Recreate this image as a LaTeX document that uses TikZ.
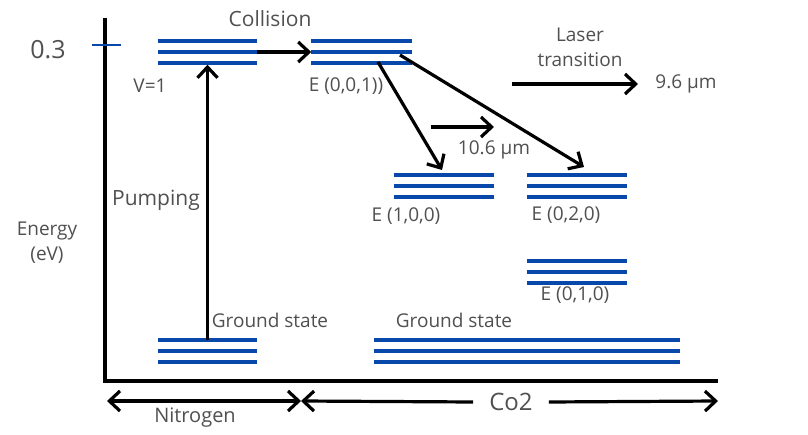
\documentclass[tikz,border=0pt]{standalone}
\usepackage{fontspec}
\setmainfont{Open Sans}
\usetikzlibrary{arrows.meta}
\definecolor{lvblue}{RGB}{8,72,170}
\definecolor{txtgray}{RGB}{80,80,80}
\newcommand\lvlines[1]{\draw[lvline] (#1.north west) -- (#1.north east) (#1.west) -- (#1.east) (#1.south west) -- (#1.south east);}
\tikzset{
  px/.style={x=0.75pt,y=-0.75pt},
  lvl/.style={inner sep=0pt, minimum height=15.75pt, minimum width=#1*0.75pt},
  lvline/.style={draw=lvblue, line width=3pt},
  lbl/.style={text=txtgray, inner sep=0pt, font=\fontsize{14.25}{17}\selectfont},
  tipx/.tip={Straight Barb[length=8pt,width=15pt,line width=2.4pt]},
  conn/.style={draw=black, line width=2.4pt, -tipx},
  axisline/.style={draw=black, line width=3.4pt}
}
\begin{document}
\begin{tikzpicture}[px]
\useasboundingbox[fill=white] (0,0) rectangle (808,435);
% axes
\draw[axisline] (105,18) -- (105,381) -- (718,381);
\draw[draw=lvblue, line width=1.6pt] (92,45) -- (121,45);
\node[lbl, font=\fontsize{18.75}{22}\selectfont] (val) at (48,50) {0.3};
\node[lbl, align=center] (energy) at (47,243) {Energy\\[2pt](eV)};
% levels
\node[lvl=99] (v1) at (207.5,52) {};
\node[lvl=100] (e001) at (361.5,52) {};
\node[lvl=100] (e100) at (444,186) {};
\node[lvl=100] (e020) at (577,186) {};
\node[lvl=100] (e010) at (577,272) {};
\node[lvl=99] (n2g) at (207.5,351) {};
\node[lvl=306] (co2g) at (527,351) {};
\lvlines{v1}\lvlines{e001}\lvlines{e100}\lvlines{e020}\lvlines{e010}\lvlines{n2g}\lvlines{co2g}
% labels
\node[lbl, font=\fontsize{15.75}{19}\selectfont] (coll) at (270,19) {Collision};
\node[lbl] (v1l) at (150,86) {V=1};
\node[lbl] (e001l) at (346,86) {E (0,0,1))};
\node[lbl] (e100l) at (406,216) {E (1,0,0)};
\node[lbl] (e020l) at (566,215) {E (0,2,0)};
\node[lbl] (e010l) at (575,295) {E (0,1,0)};
\node[lbl, font=\fontsize{15.75}{19}\selectfont] (pump) at (156,200) {Pumping};
\node[lbl] (gs1) at (270,320) {Ground state};
\node[lbl] (gs2) at (454,320) {Ground state};
\node[lbl] (laser) at (580,35) {Laser};
\node[lbl] (trans) at (580,60) {transition};
\node[lbl] (w96) at (686,84) {9.6 µm};
\node[lbl] (w106) at (494,150) {10.6 µm};
\node[lbl, font=\fontsize{18}{21}\selectfont] (co2) at (511,402) {Co2};
\node[lbl, font=\fontsize{15}{18}\selectfont] (nit) at (195,418) {Nitrogen};
% coordinates
\coordinate (a1s) at (378,62);
\coordinate (a1e) at (442,170);
\coordinate (a2s) at (400,55);
\coordinate (a2e) at (584,167);
\coordinate (s1) at (431,127);
\coordinate (s2) at (494,127);
\coordinate (l1) at (512,84);
\coordinate (l2) at (638,84);
\coordinate (nl) at (107,401);
\coordinate (nr) at (301,401);
\coordinate (cr) at (718,401);
% connectors
\draw[conn] (v1.east) -- (e001.west);
\draw[conn] (n2g.north) -- ([yshift=-1.5pt]v1.south);
\draw[conn] (a1s) -- (a1e);
\draw[conn] (a2s) -- (a2e);
\draw[conn] (s1) -- (s2);
\draw[conn] (l1) -- (l2);
\draw[conn, tipx-tipx] (nl) -- (nr);
\draw[conn, tipx-] (nr) -- ([xshift=-12pt]co2.west);
\draw[conn] ([xshift=12pt]co2.east) -- (cr);
\end{tikzpicture}
\end{document}
